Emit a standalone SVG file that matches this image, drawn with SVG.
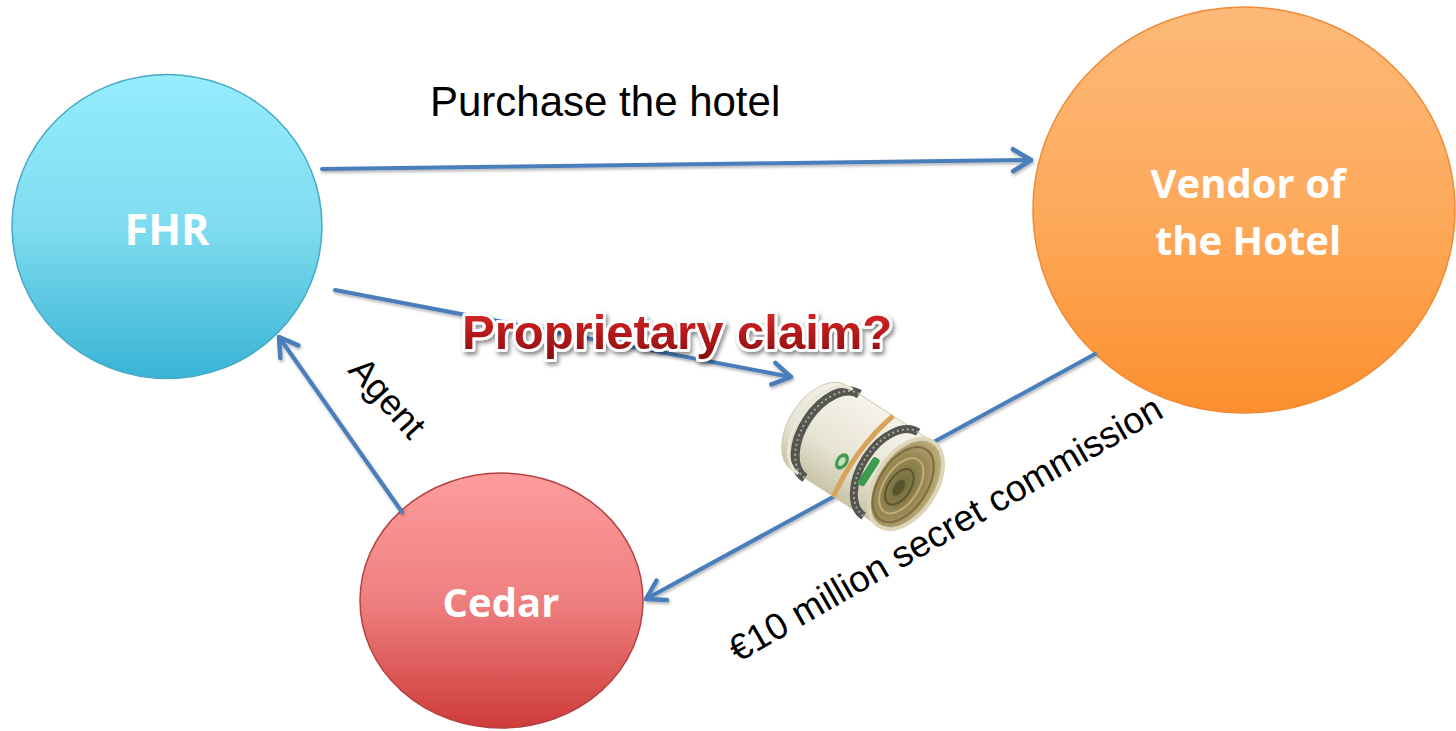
<svg xmlns="http://www.w3.org/2000/svg" width="1456" height="731" viewBox="0 0 1456 731">
<style>
.conn{fill:none;stroke:#4a7ebb;stroke-width:4;stroke-linecap:round;}
.node-label{font-family:"Open Sans","Liberation Sans",sans-serif;font-weight:700;fill:#ffffff;text-anchor:middle;}
.plain{font-family:"Liberation Sans",Arial,sans-serif;fill:#000000;}
.border{fill:none;stroke:#55564f;}
.border-dots{fill:none;stroke:#a9aa9f;stroke-width:2;stroke-dasharray:2 3;}
</style>
<defs>
<linearGradient id="gFHR" x1="0" y1="0" x2="0" y2="1">
<stop offset="0" stop-color="#95edfe"/>
<stop offset="0.5" stop-color="#7fdcef"/>
<stop offset="1" stop-color="#38b4d5"/>
</linearGradient>
<linearGradient id="gVendor" x1="0" y1="0" x2="0" y2="1">
<stop offset="0" stop-color="#fdb979"/>
<stop offset="0.5" stop-color="#fdaa5c"/>
<stop offset="1" stop-color="#fc8f2e"/>
</linearGradient>
<linearGradient id="gCedar" x1="0" y1="0" x2="0" y2="1">
<stop offset="0" stop-color="#fe9c9c"/>
<stop offset="0.5" stop-color="#ef8080"/>
<stop offset="1" stop-color="#cf3b3b"/>
</linearGradient>
<linearGradient id="gClaim" x1="0" y1="0" x2="0" y2="1">
<stop offset="0" stop-color="#e42a2a"/>
<stop offset="1" stop-color="#8a0a0c"/>
</linearGradient>
<linearGradient id="gBill" x1="0" y1="0" x2="0" y2="1">
<stop offset="0" stop-color="#f6f4ea"/>
<stop offset="0.6" stop-color="#e6e4d5"/>
<stop offset="1" stop-color="#c9c4a8"/>
</linearGradient>
<radialGradient id="gEnd" cx="0.45" cy="0.55" r="0.6">
<stop offset="0" stop-color="#6f6a3c"/>
<stop offset="0.6" stop-color="#9b8a58"/>
<stop offset="1" stop-color="#c9b98a"/>
</radialGradient>
<filter id="shadow" x="-20%" y="-20%" width="140%" height="140%">
<feDropShadow dx="1" dy="2" stdDeviation="1.5" flood-color="#000" flood-opacity="0.3"/>
</filter>
<filter id="wshadow" x="-10%" y="-30%" width="120%" height="160%">
<feDropShadow dx="2" dy="3" stdDeviation="2" flood-color="#000" flood-opacity="0.45"/>
</filter>
<marker id="arrow" viewBox="0 0 28 28" refX="24" refY="14" markerWidth="28" markerHeight="28" markerUnits="userSpaceOnUse" orient="auto">
<path d="M6,3 L24,14 L6,25" fill="none" stroke="#4a7ebb" stroke-width="4.5" stroke-linecap="round" stroke-linejoin="round"/>
</marker>
</defs>
<rect width="1456" height="731" fill="#ffffff"/>

<g id="node-fhr">
<ellipse cx="167" cy="226.5" rx="155" ry="152" fill="url(#gFHR)" stroke="#47a9c6" stroke-width="1.5"/>
<text class="node-label" x="167" y="245" font-size="43">FHR</text>
</g>

<g id="node-vendor">
<ellipse cx="1244" cy="210" rx="211" ry="203" fill="url(#gVendor)" stroke="#f08a35" stroke-width="1.5"/>
<text class="node-label" x="1248" y="198" font-size="40">Vendor of</text>
<text class="node-label" x="1248" y="255" font-size="40">the Hotel</text>
</g>

<g id="node-cedar">
<ellipse cx="501.5" cy="600.5" rx="141.5" ry="127.5" fill="url(#gCedar)" stroke="#b54242" stroke-width="1.5"/>
<text class="node-label" x="501" y="617" font-size="40">Cedar</text>
</g>

<g id="connectors" filter="url(#shadow)">
<line class="conn" x1="322" y1="169" x2="1031" y2="160" marker-end="url(#arrow)"/>
<line class="conn" x1="335" y1="290" x2="791" y2="377" marker-end="url(#arrow)"/>
<line class="conn" x1="1095" y1="354" x2="646" y2="599" marker-end="url(#arrow)"/>
<line class="conn" x1="402" y1="512" x2="279" y2="337" marker-end="url(#arrow)"/>
</g>

<g id="money" transform="translate(906,484) rotate(33)">
<path d="M-104,-50 L0,-50 A30,50 0 0 1 0,50 L-104,50 A30,50 0 0 1 -104,-50 Z" fill="url(#gBill)" stroke="#cfc9ae" stroke-width="1"/>
<path class="border" d="M-88,-50 A30,50 0 0 0 -88,50" stroke-width="9"/>
<path class="border-dots" d="M-88,-50 A30,50 0 0 0 -88,50"/>
<path class="border" d="M-18,-50 A30,50 0 0 0 -18,50" stroke-width="8"/>
<path class="border-dots" d="M-18,-50 A30,50 0 0 0 -18,50"/>
<path d="M-96,-50 A30,50 0 0 0 -96,50" fill="none" stroke="#e9e6d8" stroke-width="3"/>
<ellipse cx="-66" cy="16" rx="6" ry="9" fill="#3f9a4e"/>
<ellipse cx="-66" cy="16" rx="3" ry="5" fill="#c3e0bd"/>
<rect x="-42" y="-6" width="8" height="32" rx="3" fill="#3d9b4f"/>
<rect x="-56" y="-28" width="3" height="14" fill="#7f9a82"/>
<path d="M-48,-50 Q-62,0 -54,50" fill="none" stroke="#d9a35a" stroke-width="5"/>
<ellipse cx="0" cy="0" rx="30" ry="50" fill="url(#gEnd)" stroke="#dcd5b8" stroke-width="4"/>
<ellipse cx="-2" cy="2" rx="24" ry="42" fill="none" stroke="#7e6c3e" stroke-width="2"/>
<ellipse cx="-3" cy="4" rx="17" ry="31" fill="none" stroke="#c3ad72" stroke-width="2"/>
<ellipse cx="-4" cy="6" rx="11" ry="20" fill="none" stroke="#5e5630" stroke-width="2"/>
<ellipse cx="-4" cy="7" rx="5" ry="9" fill="#58542e"/>
</g>

<g id="labels">
<text class="plain" x="430" y="116" font-size="42">Purchase the hotel</text>
<text class="plain" x="347" y="371" font-size="36" transform="rotate(48 347 371)">Agent</text>
<text class="plain" x="738" y="663" font-size="37" transform="rotate(-30 738 663)">€10 million secret commission</text>
<text x="462" y="349" font-family="'Liberation Sans',Arial,sans-serif" font-weight="700" font-size="49" fill="url(#gClaim)" stroke="#ffffff" stroke-width="6" stroke-linejoin="round" paint-order="stroke" filter="url(#wshadow)">Proprietary claim?</text>
</g>
</svg>
